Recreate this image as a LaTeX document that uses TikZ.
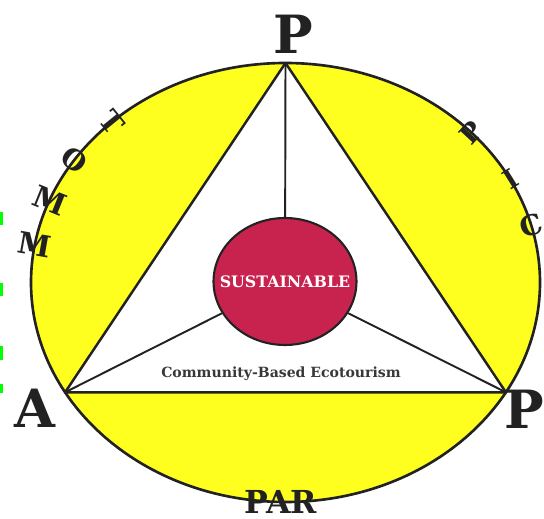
\documentclass[tikz,border=0pt]{standalone}
\usepackage{fontspec}
\setmainfont{DejaVu Serif}
\usetikzlibrary{shapes.geometric}
\definecolor{ring}{HTML}{FFFF1F}
\definecolor{core}{HTML}{C8234F}
\definecolor{ink}{HTML}{222222}
\definecolor{edgegreen}{HTML}{00FF00}
\begin{document}
\begin{tikzpicture}[x=0.02cm,y=-0.02cm]
  \useasboundingbox (0,0) rectangle (544,519);
  % Ring
  \fill[ring] (285.5,282.5) ellipse [x radius=254.5, y radius=219.5];
  \draw[ink,line width=1.5pt] (285.5,282.5) ellipse [x radius=254.5, y radius=219.5];

  % Triangle
  \coordinate (ptop) at (285.5,63);
  \coordinate (pleft) at (65.1,392.3);
  \coordinate (pright) at (505.9,392.3);
  \filldraw[fill=white,draw=ink,line width=1.4pt,line join=round] (ptop) -- (pleft) -- (pright) -- cycle;

  % Core
  \node[ellipse,draw=ink,fill=core,line width=1.2pt,inner sep=0pt,
        minimum width=2.86cm,minimum height=2.54cm] (sus) at (285,281.5) {};
  \node[font=\fontsize{9}{11}\selectfont\bfseries,text=white] (sustxt) at (sus.center) {SUSTAINABLE};
  \draw[ink,line width=1.1pt] (ptop) -- (sus);
  \draw[ink,line width=1.1pt] (pleft) -- (sus);
  \draw[ink,line width=1.1pt] (pright) -- (sus);
  \node[font=\fontsize{8}{10}\selectfont\bfseries,text=ink!90] (cbe) at (281,374) {Community-Based Ecotourism};

  % Vertices
  \node[font=\fontsize{30}{32}\selectfont\bfseries,text=ink] (ltop) at (293,34) {P};
  \node[font=\fontsize{30}{32}\selectfont\bfseries,text=ink] (lleft) at (35,408) {A};
  \node[font=\fontsize{30}{32}\selectfont\bfseries,text=ink,inner sep=0pt] (lright) at (524,409) {P};

  % Left arc: T O M M
  \node[font=\fontsize{16}{18}\selectfont\bfseries,text=ink,rotate=-51] (mt) at ({285.5+254.5*cos(133)},{282.5-219.5*sin(133)}) {T};
  \node[font=\fontsize{16}{18}\selectfont\bfseries,text=ink,rotate=-38] (mo) at ({285.5+254.5*cos(146)},{282.5-219.5*sin(146)}) {O};
  \node[font=\fontsize{17}{19}\selectfont\bfseries,text=ink,rotate=-22] (mm) at ({285.5+254.5*cos(158)},{282.5-219.5*sin(158)}) {M};
  \node[font=\fontsize{17}{19}\selectfont\bfseries,text=ink,rotate=-10] (mn) at ({285.5+254.5*cos(170)},{282.5-219.5*sin(170)}) {M};

  % Right arc: P I C
  \node[font=\fontsize{15}{17}\selectfont\bfseries,text=ink,rotate=47] (rp) at ({285.5+254.5*cos(43)},{282.5-219.5*sin(43)}) {P};
  \node[font=\fontsize{15}{17}\selectfont\bfseries,text=ink,rotate=32] (ri) at ({285.5+254.5*cos(28)},{282.5-219.5*sin(28)}) {I};
  \node[font=\fontsize{16}{18}\selectfont\bfseries,text=ink,rotate=17,inner sep=0pt] (rc) at ({285.5+254.5*cos(15)},{282.5-219.5*sin(15)}) {C};

  % Bottom
  \node[font=\fontsize{18}{20}\selectfont\bfseries,text=ink] (par) at (281,502) {PAR};

  % Edge marks
  \fill[edgegreen] (0,212) rectangle (3,225);
  \fill[edgegreen] (0,283) rectangle (3,296);
  \fill[edgegreen] (0,346) rectangle (3,360);
  \fill[edgegreen] (0,384) rectangle (3,393);
\end{tikzpicture}
\end{document}
